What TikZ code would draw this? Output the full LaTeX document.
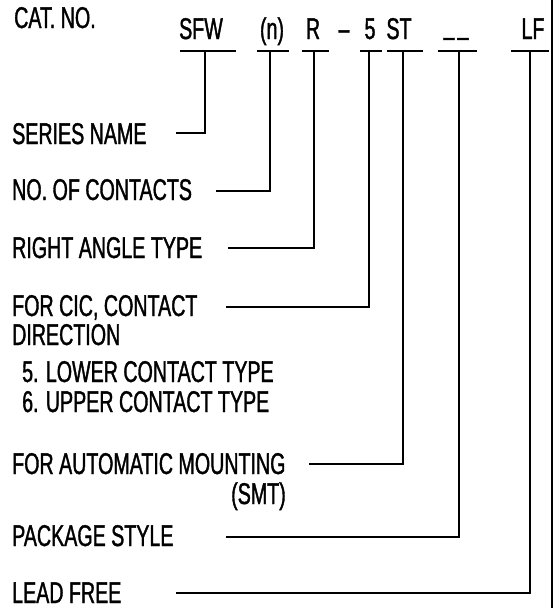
\documentclass[tikz,border=0pt]{standalone}
\usepackage{fontspec}
\setmainfont[FakeStretch=0.655,FakeBold=1.2]{Liberation Sans}
\begin{document}
\begin{tikzpicture}[x=1pt,y=-1pt,
  lbl/.style={anchor=base west,inner sep=0pt,font=\fontsize{30}{34}\selectfont},
  code/.style={anchor=base,inner sep=0pt,font=\fontsize{30}{34}\selectfont},
  wire/.style={draw=black,line width=2pt,line cap=rect},
  bar/.style={draw=black,line width=2.2pt}]
\useasboundingbox (0,0) rectangle (557,608);
\fill[white] (0,0) rectangle (557,608);
% header
\node[lbl] (cat) at (14,28) {CAT. NO.};
\node[code] (csfw) at (201,39) {SFW};
\node[code] (cn) at (272,39) {(n)};
\node[code] (cr) at (313,39) {R};
\node[code] (cdash) at (344,39) {--};
\node[code] (cfive) at (370,39) {5};
\node[code] (cst) at (399,39) {ST};
\node[code] (cblank) at (456,39) {\raisebox{5pt}{\_}\kern3pt\raisebox{5pt}{\_}};
\node[code] (clf) at (533,39) {LF};
% underline junctions
\coordinate (usfw) at (205,51);
\coordinate (un) at (270,51);
\coordinate (ur) at (314,51);
\coordinate (ufive) at (369,51);
\coordinate (ust) at (403,51);
\coordinate (ublank) at (459,51);
\coordinate (ulf) at (530,51);
\draw[bar] (180,51) -- (236,51);
\draw[bar] (257,51) -- (289,51);
\draw[bar] (302,51) -- (329,51);
\draw[bar] (360,51) -- (382,51);
\draw[bar] (387,51) -- (423,51);
\draw[bar] (438,51) -- (477,51);
\draw[bar] (511,51) -- (549,51);
% labels
\node[lbl] (series) at (12,144) {SERIES NAME};
\node[lbl] (contacts) at (12,200) {NO. OF CONTACTS};
\node[lbl] (angle) at (12,258) {RIGHT ANGLE TYPE};
\node[lbl] (cic) at (12,316) {FOR CIC, CONTACT};
\node[lbl] (dir) at (12,345) {DIRECTION};
\node[lbl] (lower) at (22,382) {5. LOWER CONTACT TYPE};
\node[lbl] (upper) at (22,412) {6. UPPER CONTACT TYPE};
\node[lbl] (smt) at (12,474) {FOR AUTOMATIC MOUNTING};
\node[lbl] (smtb) at (231,504) {(SMT)};
\node[lbl] (pkg) at (12,546) {PACKAGE STYLE};
\node[lbl] (lead) at (12,603) {LEAD FREE};
% connector start points
\coordinate (s1) at (177,133);
\coordinate (s2) at (217,191);
\coordinate (s3) at (229,248);
\coordinate (s4) at (227,307);
\coordinate (s5) at (310,464);
\coordinate (s6) at (227,537);
\coordinate (s7) at (177,593);
% connectors
\draw[wire] (s1) -- (s1 -| usfw) -- (usfw);
\draw[wire] (s2) -- (s2 -| un) -- (un);
\draw[wire] (s3) -- (s3 -| ur) -- (ur);
\draw[wire] (s4) -- (s4 -| ufive) -- (ufive);
\draw[wire] (s5) -- (s5 -| ust) -- (ust);
\draw[wire] (s6) -- (s6 -| ublank) -- (ublank);
\draw[wire] (s7) -- (s7 -| ulf) -- (ulf);
% page border
\coordinate (btop) at (552,0);
\coordinate (bbot) at (552,608);
\draw[draw=black,line width=1.8pt] (btop) -- (bbot);
\end{tikzpicture}
\end{document}
